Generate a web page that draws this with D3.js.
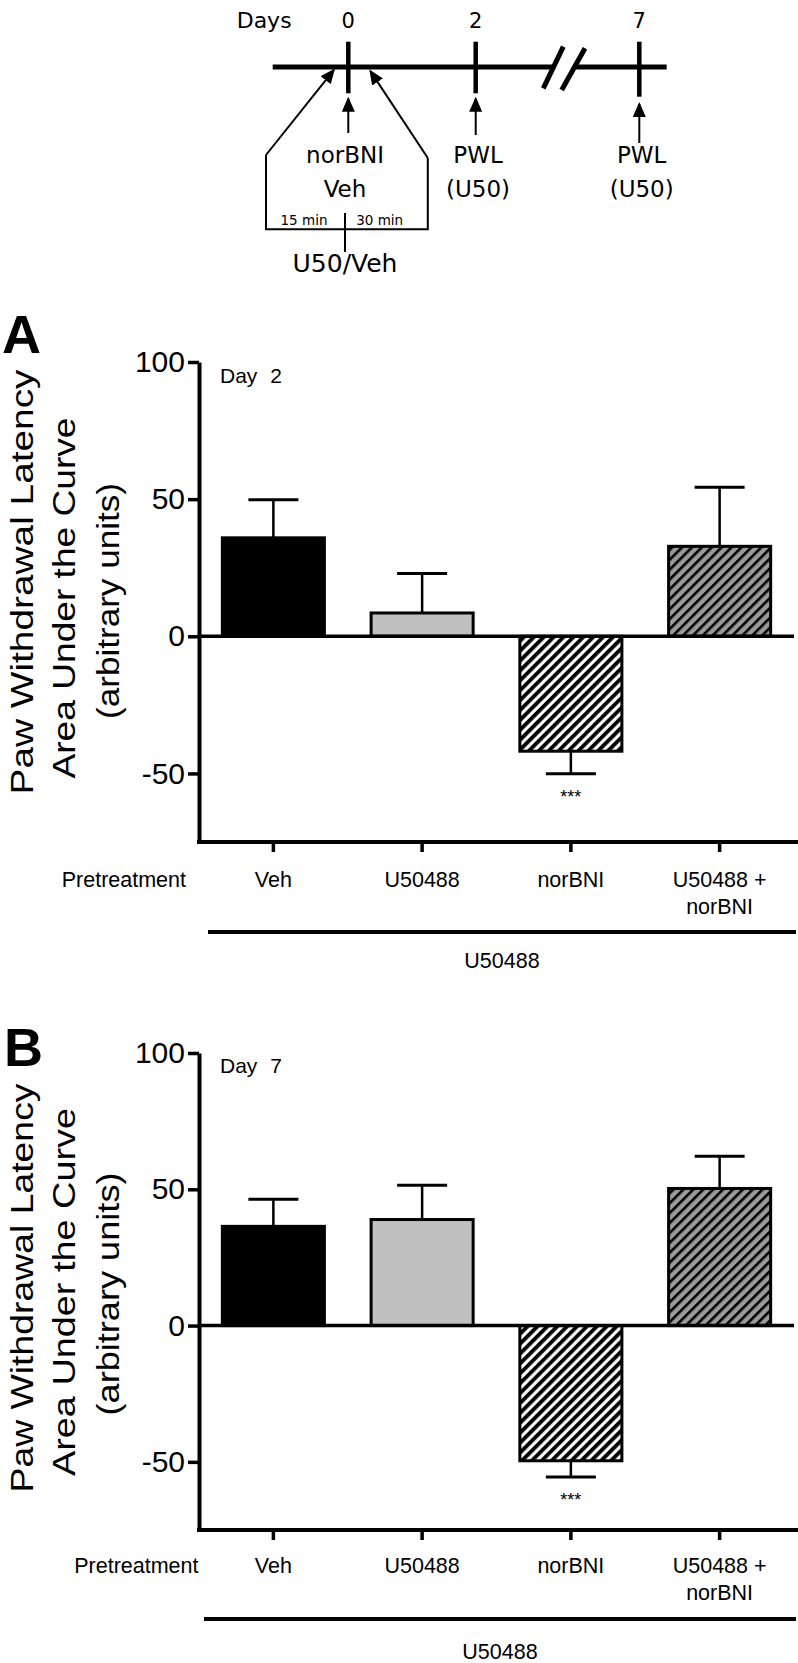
<!DOCTYPE html>
<html><head><meta charset="utf-8">
<script src="https://cdn.jsdelivr.net/npm/d3@7"></script>
<style>
body{margin:0;background:#fff}
svg{display:block}
text{font-family:"Liberation Sans",Arial,Helvetica,sans-serif;fill:#000}
</style>
</head><body>
<svg id="fig" width="798" height="1663"></svg>
<script>
// ---------------- data ----------------
const categoryKeys = ["Veh", "U50488", "norBNI", "U50488+norBNI"];
const categoryLabels = [["Veh"], ["U50488"], ["norBNI"], ["U50488 +", "norBNI"]];
const day2Means = [35.9, 8.5, -41.9, 32.8];
const day2Sems = [13.9, 14.4, 8.2, 21.5];
const day7Means = [36.4, 38.9, -49.6, 50.3];
const day7Sems = [9.9, 12.6, 6.0, 11.8];
const significance = ["", "", "***", ""];
const yTicks = [-50, 0, 50, 100];
const yDomain = [-75, 100];
const yLabelLines = ["Paw Withdrawal Latency", "Area Under the Curve", "(arbitrary units)"];
const timelineDays = ["0", "2", "7"];
const rowLabel = "Pretreatment";
const groupLabel = "U50488";

// ---------------- styles / layout ----------------
const fills = ["#000000", "#c0c0c0", "url(#hatchBW)", "url(#hatchGrey)"];
const svg = d3.select("#fig");
const defs = svg.append("defs");

const pBW = defs.append("pattern").attr("id", "hatchBW").attr("patternUnits", "userSpaceOnUse")
  .attr("width", 7).attr("height", 7).attr("patternTransform", "rotate(45)");
pBW.append("rect").attr("width", 7).attr("height", 7).attr("fill", "#fff");
pBW.append("rect").attr("width", 3.8).attr("height", 7).attr("fill", "#000");

const pG = defs.append("pattern").attr("id", "hatchGrey").attr("patternUnits", "userSpaceOnUse")
  .attr("width", 7).attr("height", 7).attr("patternTransform", "rotate(45)");
pG.append("rect").attr("width", 7).attr("height", 7).attr("fill", "#9a9a9a");
pG.append("rect").attr("width", 2.6).attr("height", 7).attr("fill", "#000");

defs.append("marker").attr("id", "arrow").attr("markerUnits", "userSpaceOnUse")
  .attr("markerWidth", 16).attr("markerHeight", 14).attr("refX", 13).attr("refY", 6.5)
  .attr("orient", "auto").attr("viewBox", "0 0 16 14")
  .append("path").attr("d", "M0,0L15,6.5L0,13Z").attr("fill", "#000");

// ---------------- timeline ----------------
const tlLayout = {dayX: [348.3, 475.7, 639.3], lineY: 67};
const tlFont = "'DejaVu Sans', sans-serif";
const tl = svg.append("g");
tl.append("text").attr("x", 236.7).attr("y", 28.3).attr("font-size", 22)
  .style("font-family", tlFont).text("Days");
timelineDays.forEach((d, i) => {
  tl.append("text").attr("x", tlLayout.dayX[i]).attr("y", 28.3).attr("text-anchor", "middle")
    .attr("font-size", 21).style("font-family", tlFont).text(d);
});
const blk = sel => sel.attr("stroke", "#000").attr("fill", "none");
blk(tl.append("line").attr("x1", 272.7).attr("x2", 553).attr("y1", 67).attr("y2", 67).attr("stroke-width", 5));
blk(tl.append("line").attr("x1", 574).attr("x2", 666.7).attr("y1", 67).attr("y2", 67).attr("stroke-width", 5));
blk(tl.append("line").attr("x1", 543.3).attr("y1", 88.3).attr("x2", 563.3).attr("y2", 46.7).attr("stroke-width", 5));
blk(tl.append("line").attr("x1", 561.7).attr("y1", 90).attr("x2", 585).attr("y2", 48.3).attr("stroke-width", 5));
[93.3, 93.3, 96.7].forEach((yb, i) => {
  blk(tl.append("line").attr("x1", tlLayout.dayX[i]).attr("x2", tlLayout.dayX[i]).attr("y1", 41.7).attr("y2", yb).attr("stroke-width", 4.5));
});
function arrow(x1, y1, x2, y2) {
  const dx = x2 - x1, dy = y2 - y1, L = Math.hypot(dx, dy);
  const ex = x2 - dx / L * 2, ey = y2 - dy / L * 2;
  blk(tl.append("line").attr("x1", x1).attr("y1", y1).attr("x2", ex).attr("y2", ey)
    .attr("stroke-width", 2).attr("marker-end", "url(#arrow)"));
}
arrow(348.3, 133, 348.3, 96.7);
arrow(475.7, 135, 475.7, 96.7);
arrow(639.3, 143, 639.3, 102);
arrow(266, 155, 335, 68.5);
arrow(427.8, 158, 369.3, 69.5);
blk(tl.append("path").attr("d", "M266,155V229.3H427.8V158").attr("stroke-width", 2));
blk(tl.append("line").attr("x1", 345).attr("x2", 345).attr("y1", 213).attr("y2", 252).attr("stroke-width", 2));
const tlText = (x, y, s, t) => tl.append("text").attr("x", x).attr("y", y).attr("font-size", s)
  .attr("text-anchor", "middle").style("font-family", tlFont).text(t);
tlText(345, 163.3, 23, "norBNI");
tlText(345, 196.7, 23, "Veh");
tlText(478, 163.3, 23, "PWL");
tlText(478, 196.7, 23, "(U50)");
tlText(641.7, 163.3, 23, "PWL");
tlText(641.7, 196.7, 23, "(U50)");
tlText(304, 225, 13.5, "15 min");
tlText(379.7, 225, 13.5, "30 min");
tlText(345, 271.7, 25, "U50/Veh");

// ---------------- bar panels ----------------
const panels = [
  {label: "A", day: "Day 2", means: day2Means, sems: day2Sems,
   top: 362, bottom: 842, labelX: 2, labelBase: 353, dayBase: 383.3,
   yLab: [{x: 33.3, c: 582, L: 425}, {x: 75, c: 598, L: 361}, {x: 118.5, c: 601, L: 236}],
   catBase: 887, pretreatRight: 186, bracketY: 932, bracketX0: 208, groupBase: 968},
  {label: "B", day: "Day 7", means: day7Means, sems: day7Sems,
   top: 1053, bottom: 1530, labelX: 4, labelBase: 1066, dayBase: 1073,
   yLab: [{x: 33.3, c: 1288, L: 409}, {x: 75, c: 1292, L: 368}, {x: 118.5, c: 1294, L: 243}],
   catBase: 1573, pretreatRight: 198.5, bracketY: 1619, bracketX0: 204, groupBase: 1659}
];

const axisX = 199, barsRight = 794, axisRight = 798;
const x = d3.scaleBand().domain(categoryKeys).range([axisX, barsRight])
  .paddingInner(0.314).paddingOuter(0.157);
const tickFmt = d => String(d); // plain hyphen-minus as in the original

panels.forEach(p => {
  const g = svg.append("g");
  const y = d3.scaleLinear().domain(yDomain).range([p.bottom, p.top]);

  // panel letter
  g.append("text").attr("x", p.labelX).attr("y", p.labelBase).attr("font-size", 54)
    .attr("font-weight", "bold").text(p.label);

  // y label
  yLabelLines.forEach((t, i) => {
    const d = p.yLab[i];
    g.append("text").attr("transform", `translate(${d.x},${d.c}) rotate(-90)`)
      .attr("text-anchor", "middle").attr("font-size", 31)
      .attr("textLength", d.L).attr("lengthAdjust", "spacingAndGlyphs").text(t);
  });

  // bars
  g.selectAll("rect.bar").data(p.means).join("rect").attr("class", "bar")
    .attr("x", (d, i) => x(categoryKeys[i]))
    .attr("width", x.bandwidth())
    .attr("y", d => y(Math.max(0, d)))
    .attr("height", d => Math.abs(y(d) - y(0)))
    .attr("fill", (d, i) => fills[i])
    .attr("stroke", "#000").attr("stroke-width", 3);

  // error bars
  p.means.forEach((m, i) => {
    const cx = x(categoryKeys[i]) + x.bandwidth() / 2;
    const end = m >= 0 ? m + p.sems[i] : m - p.sems[i];
    g.append("line").attr("x1", cx).attr("x2", cx).attr("y1", y(m)).attr("y2", y(end))
      .attr("stroke", "#000").attr("stroke-width", 2.5);
    g.append("line").attr("x1", cx - 25).attr("x2", cx + 25).attr("y1", y(end)).attr("y2", y(end))
      .attr("stroke", "#000").attr("stroke-width", 3);
    if (significance[i]) {
      g.append("text").attr("x", cx).attr("y", y(end) + 29).attr("text-anchor", "middle")
        .attr("font-size", 18).text(significance[i]);
    }
  });

  // zero line
  g.append("line").attr("x1", axisX).attr("x2", barsRight).attr("y1", y(0)).attr("y2", y(0))
    .attr("stroke", "#000").attr("stroke-width", 3.5);

  // y axis
  const ya = g.append("g").attr("transform", `translate(${axisX},0)`)
    .call(d3.axisLeft(y).tickValues(yTicks).tickSize(11).tickSizeOuter(0).tickPadding(3).tickFormat(tickFmt));
  ya.select(".domain").attr("stroke-width", 4);
  ya.selectAll(".tick line").attr("stroke-width", 3.5);
  ya.selectAll(".tick text").attr("font-size", 30);

  // x axis
  const xa = g.append("g").attr("transform", `translate(0,${p.bottom})`)
    .call(d3.axisBottom(x).tickSize(10).tickSizeOuter(0).tickFormat(""));
  xa.select(".domain").attr("d", `M${axisX - 2},0H${axisRight}`).attr("stroke-width", 4);
  xa.selectAll(".tick line").attr("stroke-width", 3.5);

  // category labels
  categoryLabels.forEach((lines, i) => {
    const cx = x(categoryKeys[i]) + x.bandwidth() / 2;
    lines.forEach((t, j) => {
      g.append("text").attr("x", cx).attr("y", p.catBase + j * 27).attr("text-anchor", "middle")
        .attr("font-size", 21.5).text(t);
    });
  });
  g.append("text").attr("x", p.pretreatRight).attr("y", p.catBase).attr("text-anchor", "end")
    .attr("font-size", 21.5).text(rowLabel);

  // group bracket
  g.append("line").attr("x1", p.bracketX0).attr("x2", 796).attr("y1", p.bracketY).attr("y2", p.bracketY)
    .attr("stroke", "#000").attr("stroke-width", 4);
  g.append("text").attr("x", (p.bracketX0 + 796) / 2).attr("y", p.groupBase).attr("text-anchor", "middle")
    .attr("font-size", 21.5).text(groupLabel);

  // day label
  g.append("text").attr("x", 220).attr("y", p.dayBase).attr("font-size", 21)
    .attr("word-spacing", 7).text(p.day);
});
</script>
</body></html>
